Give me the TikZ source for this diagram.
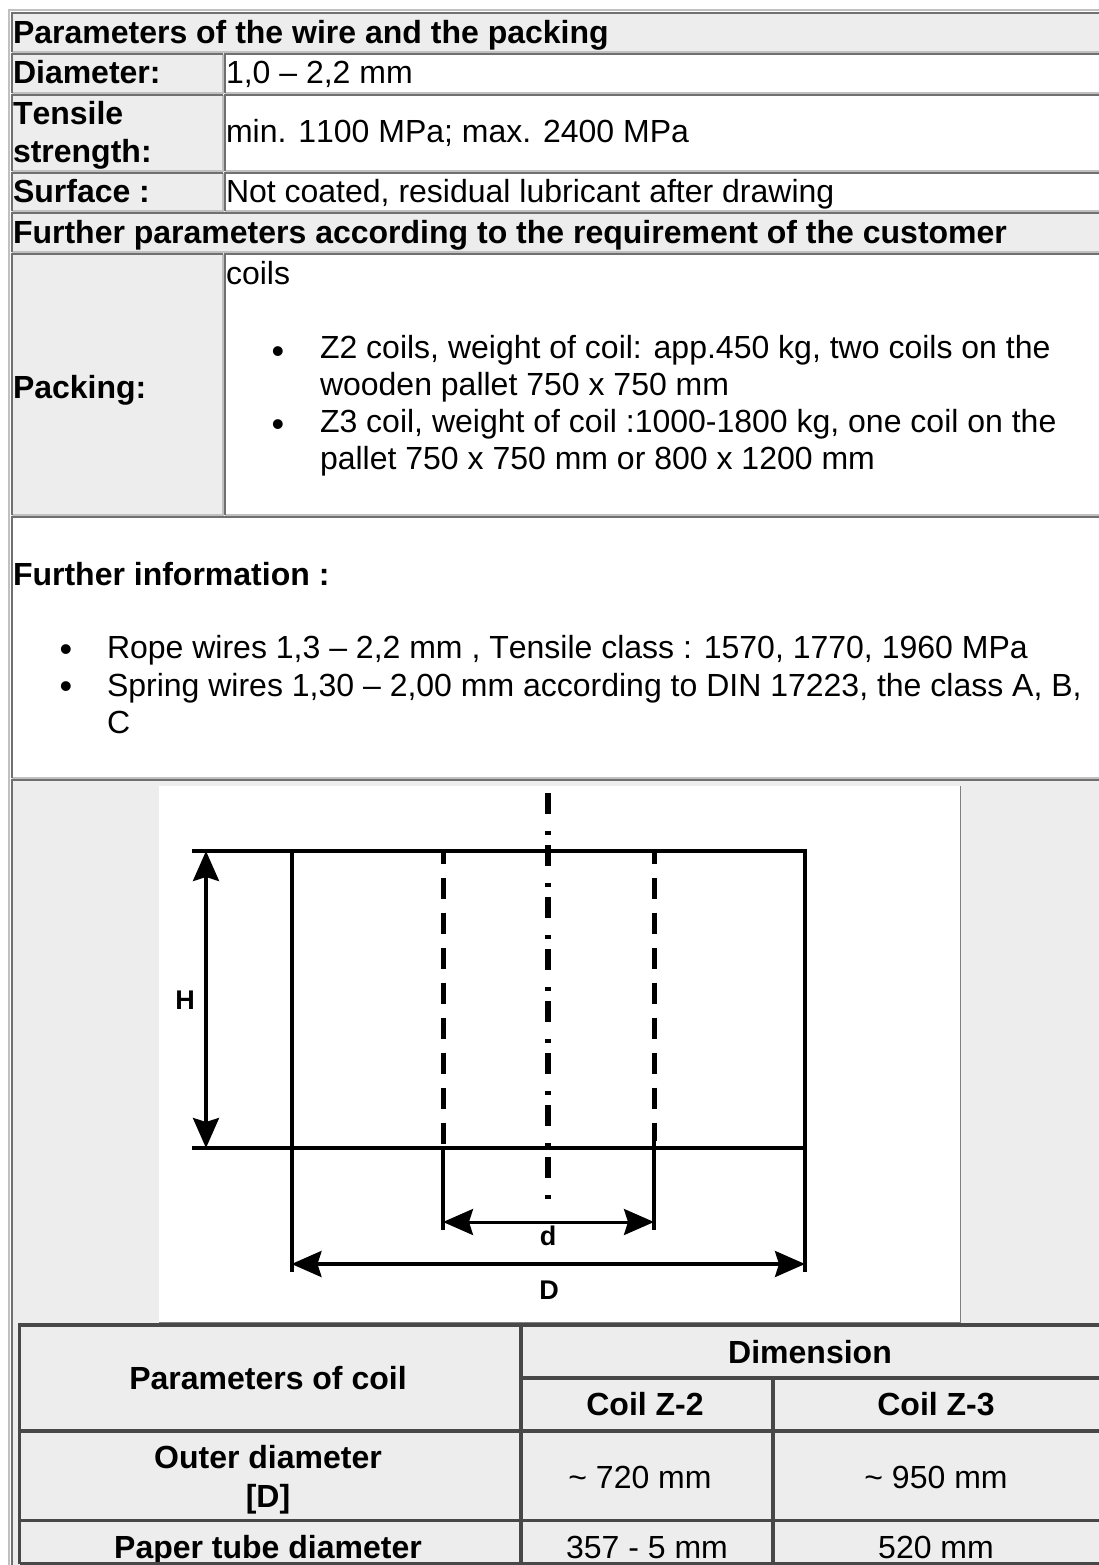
\documentclass[tikz,border=0pt]{standalone}
\usepackage{fontspec}
\setmainfont[Kerning=Off]{Liberation Sans}
\setsansfont{Liberation Sans}
\usetikzlibrary{arrows.meta}
\definecolor{cellgray}{HTML}{EDEDED}
\definecolor{bdark}{HTML}{707070}
\definecolor{blight}{HTML}{C0C0C0}
\definecolor{idark}{HTML}{484848}
\newcommand{\tcell}[5]{%
  \fill[#5] (#1,#2) rectangle (#3,#4);
  \draw[blight,line width=2] (#1,#4) -- (#3,#4) -- (#3,#2);
  \draw[bdark,line width=2] (#1,#4) -- (#1,#2) -- (#3,#2);}
\tikzset{
  txt/.style={anchor=base west,inner sep=0pt,outer sep=0pt,font=\fontsize{32}{32}\selectfont},
  btxt/.style={txt,font=\fontsize{32}{32}\selectfont\bfseries},
  ctxt/.style={txt,anchor=base},
  cbtxt/.style={btxt,anchor=base},
  bullt/.style={anchor=base,inner sep=0pt,outer sep=0pt,font=\fontsize{36}{36}\selectfont},
  inner line/.style={idark,line width=3.5},
  solidl/.style={black,line width=4},
  dashl/.style={black,line width=5,dash pattern=on 21.5pt off 13.5pt,dash phase=8.5pt},
  centerl/.style={black,line width=6,dash pattern=on 21pt off 17pt on 4pt off 10pt},
  dimarrow/.style={black,line width=3.5,{Stealth[length=30pt,width=26pt,inset=4pt]}-{Stealth[length=30pt,width=26pt,inset=4pt]}},
  dimlabel/.style={inner sep=0pt,font=\fontsize{27}{27}\selectfont\sffamily\bfseries}
}
\begin{document}
\begin{tikzpicture}[x=1pt,y=-1pt]
\useasboundingbox (0,0) rectangle (1099,1565);
\fill[white] (0,0) rectangle (1099,1565);
% outer table border
\fill[blight] (8,9) rectangle (1099,11);
\fill[blight] (8,9) rectangle (10,1565);
% rows
\tcell{12}{13}{1101}{52}{cellgray}
\tcell{12}{54}{222.5}{93}{cellgray}
\tcell{224.5}{54}{1101}{93}{white}
\tcell{12}{95}{222.5}{171}{cellgray}
\tcell{224.5}{95}{1101}{171}{white}
\tcell{12}{173}{222.5}{211}{cellgray}
\tcell{224.5}{173}{1101}{211}{white}
\tcell{12}{213}{1101}{252}{cellgray}
\tcell{12}{254}{222.5}{515}{cellgray}
\tcell{224.5}{254}{1101}{515}{white}
\tcell{12}{517}{1101}{778}{white}
\tcell{12}{780}{1101}{1568}{cellgray}
% text
\node[btxt] (t1) at (13,44) {Parameters of the wire and the packing};
\node[btxt] (t2) at (13,84) {Diameter:};
\node[txt] (v2) at (226,84) {1,0 – 2,2 mm};
\node[btxt] (t3a) at (13,125) {Tensile};
\node[btxt] (t3b) at (13,163) {strength:};
\node[txt] (v3) at (226,143) {min. 1100 MPa; max. 2400 MPa};
\node[btxt] (t4) at (13,203) {Surface :};
\node[txt] (v4) at (226,203) {Not coated, residual lubricant after drawing};
\node[btxt] (t5) at (13,243) {Further parameters according to the requirement of the customer};
\node[btxt] (t6) at (13,398) {Packing:};
\node[txt] (c0) at (226,284) {coils};
\node[bullt] (b1) at (278,363) {•};
\node[txt] (c1) at (320,358) {Z2 coils, weight of coil: app.450 kg, two coils on the};
\node[txt] (c2) at (320,395) {wooden pallet 750 x 750 mm};
\node[bullt] (b2) at (278,436) {•};
\node[txt] (c3) at (320,432) {Z3 coil, weight of coil :1000-1800 kg, one coil on the};
\node[txt] (c4) at (320,469) {pallet 750 x 750 mm or 800 x 1200 mm};
\node[btxt] (f0) at (13,585) {Further information :};
\node[bullt] (b3) at (66,661) {•};
\node[txt] (f1) at (107,658) {Rope wires 1,3 – 2,2 mm , Tensile class : 1570, 1770, 1960 MPa};
\node[bullt] (b4) at (66,698) {•};
\node[txt] (f2) at (107,696) {Spring wires 1,30 – 2,00 mm according to DIN 17223, the class A, B,};
\node[txt] (f3) at (107,733) {C};
% image
\fill[white] (159,786) rectangle (960,1322);
\draw[gray,line width=1] (960,786) -- (960,1322) -- (159,1322);
% coil drawing
\coordinate (tl) at (192,851); \coordinate (tr) at (806,851);
\coordinate (bl) at (192,1148); \coordinate (br) at (806,1148);
\coordinate (ha) at (206,851); \coordinate (hb) at (206,1148);
\coordinate (oa) at (291.5,849); \coordinate (ob) at (291.5,1272);
\coordinate (pa) at (805,849); \coordinate (pb) at (805,1272);
\coordinate (ia) at (443,851); \coordinate (ib) at (443,1148); \coordinate (ic) at (443,1230);
\coordinate (ja) at (654,851); \coordinate (jb) at (654,1141); \coordinate (jc) at (654,1230);
\coordinate (ca) at (548,793); \coordinate (cb) at (548,1199);
\coordinate (da) at (443,1222); \coordinate (db) at (654,1222);
\coordinate (ea) at (291.5,1264); \coordinate (eb) at (805,1264);
\draw[solidl] (tl) -- (tr);
\draw[solidl] (bl) -- (br);
\draw[solidl] (oa) -- (ob);
\draw[solidl] (pa) -- (pb);
\draw[dashl] (ia) -- (ib);
\draw[solidl] (ib) -- (ic);
\draw[dashl] (ja) -- (jb);
\draw[solidl] (jb) -- (jc);
\draw[centerl] (ca) -- (cb);
\draw[dimarrow] (ha) -- (hb);
\draw[dimarrow,line width=3] (da) -- (db);
\draw[dimarrow] (ea) -- (eb);
\node[dimlabel] (hl) at (185,1000.5) {H};
\node[dimlabel] (dl) at (548,1236) {d};
\node[dimlabel] (Dl) at (549,1290) {D};
% inner table
\node[cbtxt] (p1) at (268,1389) {Parameters of coil};
\node[cbtxt] (p2) at (810,1363) {Dimension};
\node[cbtxt] (p3) at (645,1415) {Coil Z-2};
\node[cbtxt] (p4) at (936,1415) {Coil Z-3};
\node[cbtxt] (p5) at (268,1468) {Outer diameter};
\node[cbtxt] (p6) at (268,1507) {[D]};
\node[ctxt] (p7) at (640,1488) {\textasciitilde\ 720 mm};
\node[ctxt] (p8) at (936,1488) {\textasciitilde\ 950 mm};
\node[cbtxt] (p9) at (268,1558) {Paper tube diameter};
\node[ctxt] (p10) at (647,1558) {357 - 5 mm};
\node[ctxt] (p11) at (936,1558) {520 mm};
\draw[inner line] (19.5,1563.5) -- (19.5,1325) -- (1099,1325);
\draw[inner line] (19.5,1431) -- (1099,1431);
\draw[inner line] (19.5,1520.5) -- (1099,1520.5);
\draw[inner line] (19.5,1563.5) -- (1099,1563.5);
\draw[inner line] (521,1378) -- (1099,1378);
\draw[inner line] (521,1325) -- (521,1563.5);
\draw[inner line] (773,1378) -- (773,1563.5);
\end{tikzpicture}
\end{document}
